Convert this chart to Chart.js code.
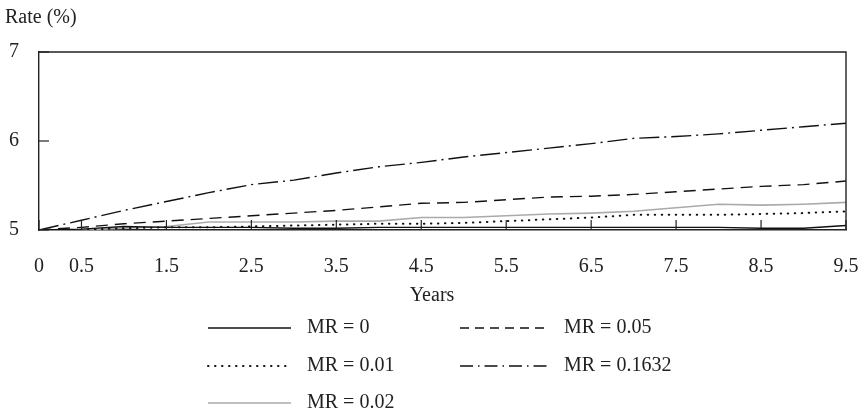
<!DOCTYPE html>
<html>
<head>
<meta charset="utf-8">
<script src="https://cdn.jsdelivr.net/npm/chart.js@4.4.1/dist/chart.umd.min.js"></script>
<style>
  html, body { margin: 0; padding: 0; background: #fff; }
  #wrap { width: 865px; height: 416px; position: relative; }
</style>
</head>
<body>
<div id="wrap"><canvas id="rateChart"></canvas></div>
<script>
// years (x values)
var years = [0, 0.5, 1, 1.5, 2, 2.5, 3, 3.5, 4, 4.5, 5, 5.5, 6, 6.5, 7, 7.5, 8, 8.5, 9, 9.5];
var xTicks = [0, 0.5, 1.5, 2.5, 3.5, 4.5, 5.5, 6.5, 7.5, 8.5, 9.5];
var yTicks = [5, 6, 7];

// rate (%) for each mortality rate
var mr0     = [5.00, 5.01, 5.04, 5.03, 5.03, 5.03, 5.02, 5.02, 5.03, 5.03, 5.03, 5.03, 5.03, 5.03, 5.03, 5.03, 5.03, 5.02, 5.02, 5.05];
var mr001   = [5.00, 5.00, 5.02, 5.03, 5.03, 5.04, 5.05, 5.06, 5.07, 5.07, 5.08, 5.10, 5.12, 5.14, 5.17, 5.17, 5.17, 5.18, 5.19, 5.21];
var mr002   = [5.00, 5.00, 5.02, 5.04, 5.09, 5.09, 5.09, 5.10, 5.10, 5.14, 5.14, 5.16, 5.18, 5.19, 5.21, 5.25, 5.29, 5.28, 5.29, 5.31];
var mr005   = [5.00, 5.03, 5.07, 5.10, 5.13, 5.16, 5.19, 5.22, 5.26, 5.30, 5.31, 5.34, 5.37, 5.38, 5.40, 5.43, 5.46, 5.49, 5.51, 5.55];
var mr01632 = [5.00, 5.11, 5.22, 5.32, 5.42, 5.51, 5.56, 5.64, 5.71, 5.76, 5.82, 5.87, 5.92, 5.97, 6.03, 6.05, 6.08, 6.12, 6.16, 6.20];

var FONT = "'Liberation Serif', 'DejaVu Serif', serif";
var INK = "#222";

function pts(vals) {
    return years.map(function (x, i) { return { x: x, y: vals[i] }; });
}

var series = [
    { label: "MR = 0",      data: mr0,     color: "#111", width: 1.4, dash: [],            cap: "butt" },
    { label: "MR = 0.01",   data: mr001,   color: "#111", width: 2,   dash: [0.5, 6.5],    cap: "round" },
    { label: "MR = 0.02",   data: mr002,   color: "#aaa", width: 1.6, dash: [],            cap: "butt" },
    { label: "MR = 0.05",   data: mr005,   color: "#111", width: 1.4, dash: [12, 7],       cap: "butt" },
    { label: "MR = 0.1632", data: mr01632, color: "#111", width: 1.4, dash: [20, 5, 2, 5], cap: "butt" }
];

// frame, inward tick marks, axis texts and the legend
var decorations = {
    id: "decorations",
    afterDraw: function (chart) {
        var ctx = chart.ctx, a = chart.chartArea;
        var xs = chart.scales.x, ys = chart.scales.y;
        ctx.save();
        ctx.strokeStyle = INK;
        ctx.lineWidth = 1.4;
        ctx.setLineDash([]);
        ctx.beginPath();
        ctx.moveTo(a.left, a.top); ctx.lineTo(a.right, a.top); ctx.lineTo(a.right, a.bottom);
        ctx.stroke();
        ctx.lineWidth = 1.2;
        xTicks.forEach(function (v) {
            var px = xs.getPixelForValue(v);
            ctx.beginPath(); ctx.moveTo(px, a.bottom); ctx.lineTo(px, a.bottom - 10); ctx.stroke();
        });
        yTicks.forEach(function (v) {
            var py = ys.getPixelForValue(v);
            ctx.beginPath(); ctx.moveTo(a.left, py); ctx.lineTo(a.left + 10, py); ctx.stroke();
        });

        ctx.fillStyle = INK;
        ctx.font = "20px " + FONT;
        ctx.textBaseline = "middle";
        ctx.textAlign = "left";
        ctx.fillText("Rate (%)", 5, 18);
        ctx.textAlign = "center";
        ctx.fillText("Years", 432, 296);

        // legend: two columns
        var slots = [
            { x: 208, y: 328 }, { x: 208, y: 366 }, { x: 208, y: 403 },
            { x: 460, y: 328 }, { x: 460, y: 366 }
        ];
        series.forEach(function (s, k) {
            var p = slots[k];
            var len = k < 3 ? 83 : 88;
            ctx.strokeStyle = s.color;
            ctx.lineWidth = s.width;
            ctx.lineCap = s.cap;
            ctx.setLineDash(k === 3 ? [9, 6] : (k === 4 ? [13, 5, 1.5, 5] : s.dash));
            ctx.beginPath(); ctx.moveTo(p.x, p.y); ctx.lineTo(p.x + len, p.y); ctx.stroke();
            ctx.setLineDash([]);
            ctx.textAlign = "left";
            ctx.fillStyle = INK;
            ctx.fillText(s.label, p.x + len + 16, p.y);
        });
        ctx.restore();
    }
};

new Chart(document.getElementById("rateChart"), {
    type: "line",
    data: {
        datasets: series.map(function (s) {
            return {
                label: s.label,
                data: pts(s.data),
                borderColor: s.color,
                borderWidth: s.width,
                borderDash: s.dash,
                borderCapStyle: s.cap,
                pointRadius: 0,
                tension: 0,
                fill: false
            };
        })
    },
    options: {
        responsive: true,
        maintainAspectRatio: false,
        animation: false,
        layout: { padding: { top: 52, left: 0, right: 19, bottom: 106 } },
        plugins: { legend: { display: false }, tooltip: { enabled: false } },
        scales: {
            x: {
                type: "linear",
                min: 0,
                max: 9.5,
                afterBuildTicks: function (scale) {
                    scale.ticks = xTicks.map(function (v) { return { value: v }; });
                },
                afterFit: function (scale) { scale.height = 80; },
                // ticks are hidden; tickLength only spaces the labels off the axis
                grid: { display: false, drawTicks: true, tickLength: 25 },
                border: { display: true, color: INK, width: 1.6 },
                ticks: {
                    padding: 0,
                    maxRotation: 0,
                    autoSkip: false,
                    color: INK,
                    font: { family: FONT, size: 20 },
                    callback: function (v) { return String(v); }
                }
            },
            y: {
                type: "linear",
                min: 5,
                max: 7,
                afterBuildTicks: function (scale) {
                    scale.ticks = yTicks.map(function (v) { return { value: v }; });
                },
                afterFit: function (scale) { scale.width = 39; },
                grid: { display: false, drawTicks: true, tickLength: 20 },
                border: { display: true, color: INK, width: 1.4 },
                ticks: {
                    padding: 0,
                    color: INK,
                    font: { family: FONT, size: 20 }
                }
            }
        }
    },
    plugins: [decorations]
});
</script>
</body>
</html>
